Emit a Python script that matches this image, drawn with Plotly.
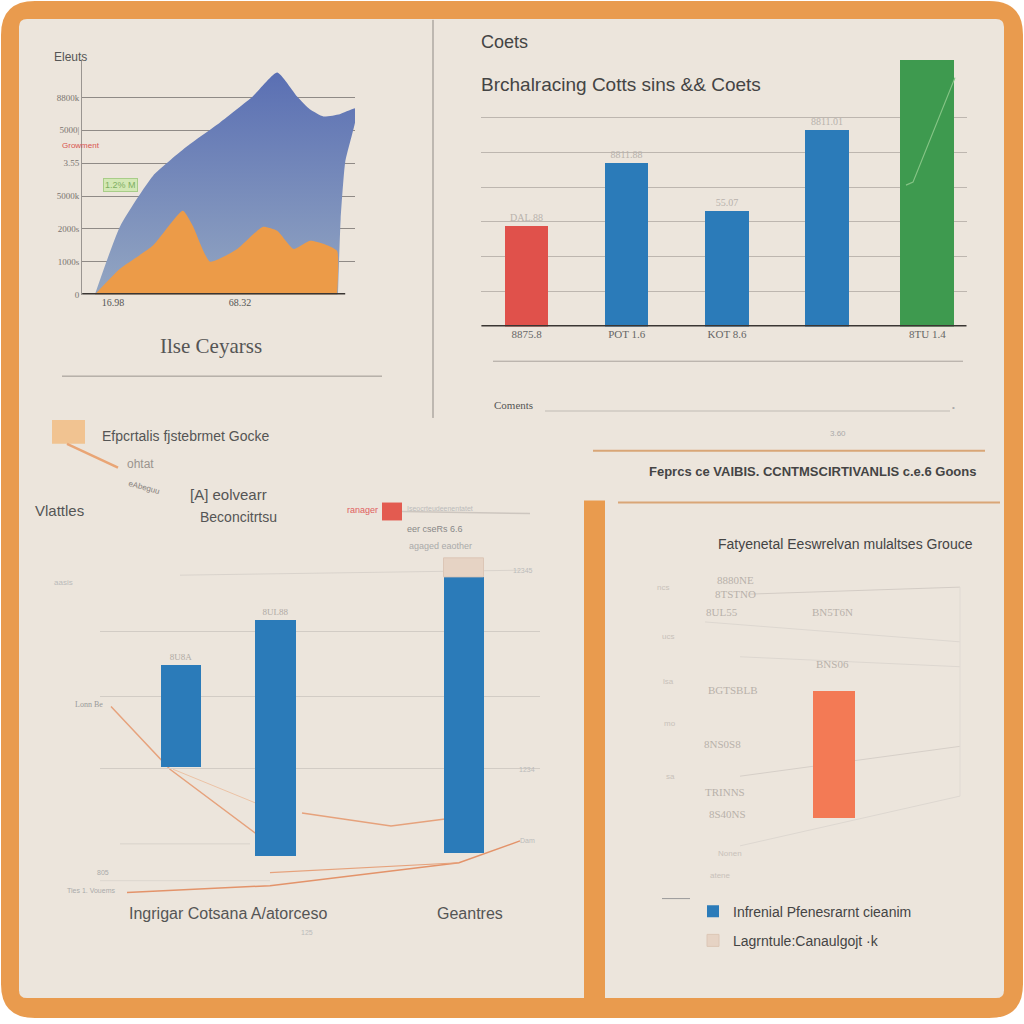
import plotly.graph_objects as go

W = H = 1024


def px(x):
    return x / W


def py(y):
    return 1 - y / H


# ---------------- DATA ----------------
# Panel 1 (area chart, values in units, x in years)
blue_years = [1996.0, 1998.8, 2002.4, 2006.2, 2009.8, 2013.4, 2016.1, 2018.3, 2019.7,
              2021.2, 2023.0, 2024.9, 2023.6, 2023.1, 2022.8]
blue_vals = [0, 2090, 3610, 4520, 5240, 6030, 6760, 6030, 5640, 5420, 5490, 5670, 4030, 2300, 0]
orange_years = [1996.0, 1998.8, 2002.4, 2005.7, 2006.8, 2008.7, 2011.7, 2014.5, 2016.1,
                2017.9, 2019.7, 2021.2, 2022.7, 2022.7]
orange_vals = [0, 790, 1490, 2550, 2090, 1000, 1390, 2060, 1940, 1390, 1640, 1550, 1330, 0]
p1_ytickvals = [0, 1000, 2000, 3000, 4000, 5000, 6000]
p1_yticktext = ["0", "1000s", "2000s", "5000k", "3.55", "5000|", "8800k"]
p1_xtickvals = [1998, 2012]
p1_xticktext = ["16.98", "68.32"]

# Panel 2 (bar chart)
p2_cats = ["c1", "c2", "c3", "c4", "c5"]
p2_vals = [2890, 4690, 3310, 5660, 7660]
p2_colors = ["#e0514b", "#2b7bb9", "#2b7bb9", "#2b7bb9", "#3e9a4f"]
p2_text = ["DAL.88", "8811.88", "55.07", "8811.01", ""]
p2_ticktext = ["8875.8", "POT 1.6", "KOT 8.6", "", "8TU 1.4"]
p2_grid = [1000, 2000, 3000, 4000, 5000, 6000]

# Panel 3 (floating bars)
p3_cats = ["q1", "q2", "q3", "q4"]
p3_base = [1290, 390, None, 420]
p3_vals = [1020, 2380, None, 2780]
p3_text = ["8U8A", "8UL88", "", ""]
p3_cap_cat = ["q4"]
p3_cap_base = [3200]
p3_cap_vals = [190]
p3_grid = [1280, 2000, 2650]

# Panel 4 (single bar)
p4_cats = ["r1"]
p4_vals = [1280]

legend_names = ["Infrenial Pfenesrarnt cieanim", "Lagrntule:Canaulgojt ·k"]

# ---------------- FIGURE ----------------
fig = go.Figure()

# Panel 1 traces
fig.add_trace(go.Scatter(
    x=blue_years, y=blue_vals, mode="lines", fill="toself",
    line=dict(width=0, shape="spline", smoothing=0.5),
    fillcolor="#6a80b8",
    fillgradient=dict(type="vertical", colorscale=[[0, "#93a6c2"], [1, "#5a6fb3"]]),
    xaxis="x", yaxis="y", showlegend=False, hoverinfo="skip"))
fig.add_trace(go.Scatter(
    x=orange_years, y=orange_vals, mode="lines", fill="toself",
    line=dict(width=0, shape="spline", smoothing=0.5),
    fillcolor="#ec9b48",
    xaxis="x", yaxis="y", showlegend=False, hoverinfo="skip"))

# Panel 2 traces
fig.add_trace(go.Bar(
    x=p2_cats, y=p2_vals, marker=dict(color=p2_colors, line=dict(width=0)),
    width=[0.43, 0.43, 0.44, 0.44, 0.54],
    text=p2_text, textposition="outside", cliponaxis=False,
    textfont=dict(size=10, color="#b8b2ac", family="Liberation Serif"),
    xaxis="x2", yaxis="y2", showlegend=False))

# Panel 3 traces
fig.add_trace(go.Bar(
    x=p3_cats, y=p3_vals, base=p3_base, name=legend_names[0],
    marker=dict(color="#2b7bb9", line=dict(width=0)), width=0.43,
    text=p3_text, textposition="outside", cliponaxis=False,
    textfont=dict(size=9, color="#b0aaa4", family="Liberation Serif"),
    xaxis="x3", yaxis="y3", showlegend=True, legendgroup="a"))
fig.add_trace(go.Bar(
    x=p3_cap_cat, y=p3_cap_vals, base=p3_cap_base, name=legend_names[1],
    marker=dict(color="#e6d3c4", line=dict(width=1, color="#dcc6b6")), width=0.43,
    xaxis="x3", yaxis="y3", showlegend=True, legendgroup="b"))

# Panel 4 trace
fig.add_trace(go.Bar(
    x=p4_cats, y=p4_vals, marker=dict(color="#f37a55", line=dict(width=0)), width=0.28,
    xaxis="x4", yaxis="y4", showlegend=False))

# ---------------- SHAPES ----------------
shapes = []


def rrect(x0, y0, x1, y1, r, color, layer="below"):
    a0, b0, a1, b1 = px(x0), py(y0), px(x1), py(y1)
    rr = r / W
    path = (f"M {a0+rr},{b0} L {a1-rr},{b0} Q {a1},{b0} {a1},{b0-rr} "
            f"L {a1},{b1+rr} Q {a1},{b1} {a1-rr},{b1} L {a0+rr},{b1} "
            f"Q {a0},{b1} {a0},{b1+rr} L {a0},{b0-rr} Q {a0},{b0} {a0+rr},{b0} Z")
    shapes.append(dict(type="path", path=path, xref="paper", yref="paper",
                       fillcolor=color, line=dict(width=0), layer=layer))


def rect(x0, y0, x1, y1, color, layer="below", line_color=None):
    shapes.append(dict(type="rect", xref="paper", yref="paper",
                       x0=px(x0), x1=px(x1), y0=py(y1), y1=py(y0),
                       fillcolor=color,
                       line=dict(width=1 if line_color else 0, color=line_color or color),
                       layer=layer))


def pline(x0, y0, x1, y1, color="#999", width=1, layer="below"):
    shapes.append(dict(type="line", xref="paper", yref="paper",
                       x0=px(x0), x1=px(x1), y0=py(y0), y1=py(y1),
                       line=dict(color=color, width=width), layer=layer))


def ppath(points, color, width=1, layer="below"):
    d = "M " + " L ".join(f"{px(a)},{py(b)}" for a, b in points)
    shapes.append(dict(type="path", path=d, xref="paper", yref="paper",
                       line=dict(color=color, width=width), layer=layer))


# frame
rrect(1, 1, 1023, 1023, 34, "#e99b4e")
rrect(19, 19, 1004, 1003, 8, "#ece5dc")
rect(584, 503, 605, 1010, "#e99b4e")

# panel 1
pline(62, 378, 382, 378, "#9a948e", 1)
# panel divider
pline(433, 20, 433, 420, "#8f8a85", 1)
# panel 2 lower
pline(493, 363, 963, 363, "#a9a39d", 1)
pline(545, 413, 950, 413, "#cfc9c2", 1.5)
pline(593, 453, 985, 453, "#d9a677", 2)
pline(618, 505, 1000, 505, "#d9a677", 2)

# panel 3 decorations
rect(52, 422, 85, 446, "#f1c391")
pline(67, 446, 118, 470, "#e9a575", 2.5)
rect(382, 505, 402, 523, "#e35b50")
pline(402, 514, 530, 516, "#cdc6bf", 1.5)
pline(180, 578, 520, 573, "#d9d3cc", 1)
pline(120, 848, 250, 848, "#d8d2cb", 1)
pline(100, 885, 270, 885, "#dcd6cf", 1)
ppath([(111, 710), (170, 773), (263, 843)], "#e6a27c", 1.5)
ppath([(173, 773), (263, 810)], "#ebc2a5", 1)
ppath([(302, 817), (391, 830), (445, 823)], "#e6a27c", 1.5)
ppath([(127, 897), (270, 890), (459, 867), (520, 845)], "#e3936a", 1.5)
ppath([(270, 877), (459, 867)], "#e6a27c", 1.2)

# panel 4 faint lines
pline(750, 597, 960, 590, "#d3ccc5", 1)
pline(705, 625, 960, 645, "#ddd7d0", 1)
pline(740, 660, 960, 670, "#ddd7d0", 1)
pline(740, 780, 960, 750, "#d6cfc8", 1)
pline(740, 850, 960, 800, "#ddd7d0", 1)
pline(960, 590, 960, 800, "#e0dad3", 1)
pline(662, 903, 690, 903, "#999", 1)

# in-axis shapes (baselines)
shapes.append(dict(type="line", xref="x", yref="y", x0=1994.6, x1=2023.6, y0=0, y1=0,
                   line=dict(color="#3a3633", width=3), layer="above"))
shapes.append(dict(type="line", xref="x2", yref="y2", x0=-0.45, x1=4.39, y0=0, y1=0,
                   line=dict(color="#3a3633", width=3), layer="above"))
# green accent line on green bar
ppath([(906, 186), (913, 183), (955, 78)], "#86c486", 1.2, layer="above")

fig.update_layout(shapes=shapes)

# ---------------- ANNOTATIONS ----------------
anns = []
SANS = "Liberation Sans"


def ann(x, y, text, size=12, color="#555", anchor="left", family=SANS, **kw):
    d = dict(x=px(x), y=py(y), xref="paper", yref="paper", text=text, showarrow=False,
             xanchor=anchor, yanchor="middle", font=dict(size=size, color=color, family=family))
    d.update(kw)
    anns.append(d)


# panel 1
ann(52, 57, "Eleuts", 12, "#555")
ann(211, 348, "Ilse Ceyarss", 21, "#555", "center", family="Liberation Serif")
ann(60, 146, "Growment", 8, "#d9534f")
ann(120, 186, "1.2% M", 9, "#7fae62", "center", bgcolor="#d3e8b5",
    bordercolor="#a8cd88", borderwidth=1, borderpad=1)

# panel 2
ann(479, 42, "Coets", 18, "#444")
ann(479, 85, "Brchalracing Cotts sins && Coets", 19, "#444")
ann(492, 407, "Coments", 11, "#555", family="Liberation Serif")
ann(838, 436, "3.60", 8, "#aaa", "center")
ann(812, 474, "<b>Feprcs ce VAIBIS. CCNTMSCIRTIVANLIS c.e.6 Goons</b>", 13, "#444", "center",
    family=SANS)
ann(953, 409, "•", 8, "#aaa", "center")

# panel 3
ann(100, 438, "Efpcrtalis fjstebrmet Gocke", 14, "#555")
ann(125, 466, "ohtat", 12, "#9a948e")
ann(125, 490, "eAbeguu", 8, "#8a847e", textangle=15)
ann(33, 513, "Vlattles", 15, "#555")
ann(188, 497, "[A] eolvearr", 15, "#555")
ann(198, 520, "Beconcitrtsu", 14, "#555")
ann(380, 513, "ranager", 9, "#e06060", "right")
ann(405, 511, "Iseocrteudeenentatet", 7, "#bbb")
ann(405, 532, "eer cseRs 6.6", 9, "#888")
ann(407, 549, "agaged eaother", 9, "#aaa")
ann(523, 573, "12345", 7, "#bbb", "center")
ann(52, 585, "aasis", 8, "#bbb")
ann(73, 708, "Lonn Be", 8, "#999", family="Liberation Serif")
ann(527, 773, "1234", 7, "#bbb", "center")
ann(527, 845, "Dam", 7, "#bbb", "center")
ann(95, 877, "805", 7, "#aaa")
ann(65, 895, "Ties 1. Vouems", 7, "#aaa")
ann(127, 918, "Ingrigar Cotsana A/atorceso", 16, "#555")
ann(435, 918, "Geantres", 16, "#555")
ann(307, 937, "125", 7, "#bbb", "center")

# panel 4
ann(845, 547, "Fatyenetal Eeswrelvan mulaltses Grouce", 14, "#444", "center")
for (x, y, t) in [(735, 583, "8880NE"), (735, 597, "8TSTNO"), (722, 615, "8UL55"),
                  (832, 615, "BN5T6N"), (832, 667, "BNS06"), (733, 693, "BGTSBLB"),
                  (722, 748, "8NS0S8"), (725, 796, "TRINNS"), (727, 818, "8S40NS")]:
    ann(x, y, t, 11, "#b8b1aa", "center", family="Liberation Serif")
for (x, y, t) in [(663, 590, "ncs"), (668, 640, "ucs"), (668, 685, "lsa"),
                  (670, 727, "mo"), (670, 780, "sa"), (730, 858, "Nonen"), (720, 880, "atene")]:
    ann(x, y, t, 8, "#c8c1ba", "center")

fig.update_layout(annotations=anns)

# ---------------- AXES ----------------
fig.update_layout(
    width=W, height=H, margin=dict(l=0, r=0, t=0, b=0),
    paper_bgcolor="#ffffff", plot_bgcolor="rgba(0,0,0,0)",
    font=dict(family=SANS, color="#555"),
    barmode="overlay", bargap=0,
    xaxis=dict(domain=[px(82), px(355)], range=[1994.58, 2024.68], showgrid=False,
               zeroline=False, tickvals=p1_xtickvals, ticktext=p1_xticktext,
               tickfont=dict(size=10, color="#555", family="Liberation Serif"),
               ticks="", anchor="y"),
    yaxis=dict(domain=[py(296), py(60)], range=[0, 7150], tickvals=p1_ytickvals,
               ticktext=p1_yticktext, showgrid=True, gridcolor="#8f8a86", gridwidth=1,
               zeroline=False, showline=True, linecolor="#9a9591", linewidth=1,
               tickfont=dict(size=9, color="#7a746f", family="Liberation Serif"),
               ticks="", anchor="x"),
    xaxis2=dict(domain=[px(481), px(967)], range=[-0.454, 4.395], showgrid=False,
                zeroline=False, tickvals=p2_cats, ticktext=p2_ticktext,
                tickfont=dict(size=11, color="#666", family="Liberation Serif"),
                ticks="", anchor="y2", type="category"),
    yaxis2=dict(domain=[py(328), py(50)], range=[0, 7943], tickvals=p2_grid,
                showticklabels=False, showgrid=True, gridcolor="#bdb6af", gridwidth=1,
                zeroline=False, ticks="", anchor="x2"),
    xaxis3=dict(domain=[px(100), px(540)], range=[-0.859, 3.806], showgrid=False,
                zeroline=False, showticklabels=False, ticks="", anchor="y3",
                type="category", categoryorder="array", categoryarray=p3_cats),
    yaxis3=dict(domain=[py(900), py(540)], range=[0, 3600], tickvals=p3_grid,
                showticklabels=False, showgrid=True, gridcolor="#d2ccc5", gridwidth=1,
                zeroline=False, ticks="", anchor="x3"),
    xaxis4=dict(domain=[px(760), px(908)], range=[-0.5, 0.5], showgrid=False,
                zeroline=False, showticklabels=False, ticks="", anchor="y4", type="category"),
    yaxis4=dict(domain=[py(822), py(600)], range=[0, 2220], showgrid=False,
                zeroline=False, showticklabels=False, ticks="", anchor="x4"),
    legend=dict(x=px(693), y=py(900), xanchor="left", yanchor="top",
                bgcolor="rgba(0,0,0,0)", font=dict(size=14, color="#444", family=SANS),
                tracegroupgap=8, traceorder="grouped", itemclick=False),
)

fig.write_html("out.html", config={"displayModeBar": False},
               post_script="document.body.style.margin='0';document.body.style.overflow='hidden';")
